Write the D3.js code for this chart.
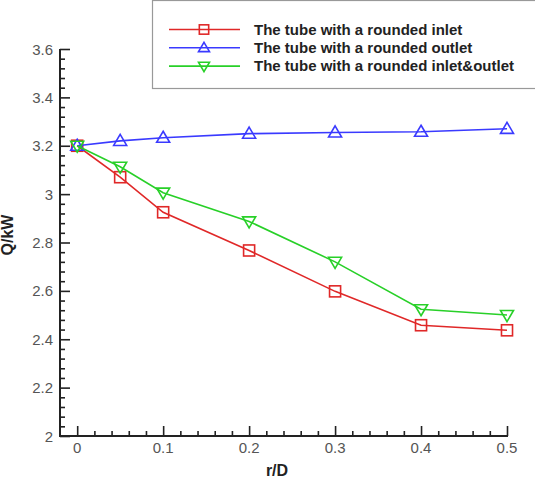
<!DOCTYPE html>
<html>
<head>
<script src="https://d3js.org/d3.v7.min.js"></script>
<style>
  body { margin: 0; background: #fff; }
  text { font-family: Arial, "Liberation Sans", sans-serif; }
</style>
</head>
<body>
<script>
// r/D values
const rD = [0, 0.05, 0.1, 0.2, 0.3, 0.4, 0.5];
// heat transfer Q (kW) for each tube
const inletQ = [3.20, 3.07, 2.925, 2.767, 2.598, 2.458, 2.437];
const outletQ = [3.20, 3.22, 3.233, 3.25, 3.255, 3.258, 3.27];
const bothQ = [3.20, 3.113, 3.006, 2.887, 2.72, 2.524, 2.50];
const seriesNames = ["The tube with a rounded inlet", "The tube with a rounded outlet", "The tube with a rounded inlet&outlet"];
const xTicks = [0, 0.1, 0.2, 0.3, 0.4, 0.5];
const yTicks = [2, 2.2, 2.4, 2.6, 2.8, 3, 3.2, 3.4, 3.6];

const WIDTH = 535, HEIGHT = 485;
const svg = d3.select("body").append("svg")
  .attr("width", WIDTH).attr("height", HEIGHT);

// plot region
const mLeft = 60, mRight = 507, mTop = 49, mBottom = 436;

const x = d3.scaleLinear().domain([-0.02, 0.5]).range([mLeft, mRight]);
const y = d3.scaleLinear().domain([2, 3.6]).range([mBottom, mTop]);

// minor ticks
const xMinor = d3.range(0, 0.5001, 0.02).filter(v => Math.abs(v * 10 - Math.round(v * 10)) > 1e-6);
const yMinor = d3.range(2, 3.6001, 0.04).filter(v => Math.abs(v * 5 - Math.round(v * 5)) > 1e-6);

const g = svg.append("g");

// x axis (ticks pointing inward)
g.append("g").attr("transform", `translate(0,${mBottom})`)
  .call(d3.axisTop(x).tickValues(xTicks).tickSize(10).tickFormat(""))
  .select(".domain").remove();
g.append("g").attr("transform", `translate(0,${mBottom})`)
  .call(d3.axisTop(x).tickValues(xMinor).tickSize(5).tickFormat(""))
  .select(".domain").remove();

// y axis
g.append("g").attr("transform", `translate(${mLeft},0)`)
  .call(d3.axisRight(y).tickValues(yTicks).tickSize(10).tickFormat(""))
  .select(".domain").remove();
g.append("g").attr("transform", `translate(${mLeft},0)`)
  .call(d3.axisRight(y).tickValues(yMinor).tickSize(5).tickFormat(""))
  .select(".domain").remove();

g.selectAll(".tick line").attr("stroke", "#222").attr("stroke-width", 1.6);

// axis lines
g.append("line").attr("x1", mLeft - 1).attr("x2", mRight + 1).attr("y1", mBottom).attr("y2", mBottom)
  .attr("stroke", "#222").attr("stroke-width", 2);
g.append("line").attr("x1", mLeft).attr("x2", mLeft).attr("y1", mTop).attr("y2", mBottom + 1)
  .attr("stroke", "#222").attr("stroke-width", 2);

// tick labels
g.selectAll(".xlab").data(xTicks).enter().append("text")
  .attr("x", d => x(d)).attr("y", mBottom + 17)
  .attr("text-anchor", "middle").attr("font-size", 15).attr("fill", "#555")
  .text(d => String(d));
g.selectAll(".ylab").data(yTicks).enter().append("text")
  .attr("x", mLeft - 7).attr("y", d => y(d) + 5.5)
  .attr("text-anchor", "end").attr("font-size", 15).attr("fill", "#555")
  .text(d => String(d));

// axis titles
svg.append("text").attr("x", 277).attr("y", 476).attr("text-anchor", "middle")
  .attr("font-size", 16).attr("font-weight", "bold").attr("fill", "#222").text("r/D");
svg.append("text").attr("transform", "translate(13,235) rotate(-90)").attr("text-anchor", "middle")
  .attr("font-size", 16).attr("font-weight", "bold").attr("fill", "#222").text("Q/kW");

// series
const colors = ["#e02828", "#3a3aff", "#28d028"];
const shapes = ["square", "up", "down"];
const allSeries = [inletQ, outletQ, bothQ];

function marker(sel, shape, color, s) {
  if (shape === "square") {
    sel.append("rect").attr("x", -s * 0.85).attr("y", -s * 0.85).attr("width", s * 1.7).attr("height", s * 1.7)
      .attr("fill", "none").attr("stroke", color).attr("stroke-width", 1.6);
  } else if (shape === "up") {
    sel.append("path").attr("d", `M0,${-s} L${s},${s * 0.7} L${-s},${s * 0.7} Z`)
      .attr("fill", "none").attr("stroke", color).attr("stroke-width", 1.6);
  } else {
    sel.append("path").attr("d", `M0,${s} L${s},${-s * 0.7} L${-s},${-s * 0.7} Z`)
      .attr("fill", "none").attr("stroke", color).attr("stroke-width", 1.6);
  }
}

const line = d3.line().x((d, i) => x(rD[i])).y(d => y(d));
allSeries.forEach((vals, k) => {
  const sg = svg.append("g");
  sg.append("path").datum(vals).attr("d", line)
    .attr("fill", "none").attr("stroke", colors[k]).attr("stroke-width", 1.6);
  vals.forEach((v, i) => {
    const m = sg.append("g").attr("transform", `translate(${x(rD[i])},${y(v)})`);
    marker(m, shapes[k], colors[k], 6.5);
  });
});

// legend
const lg = svg.append("g");
lg.append("rect").attr("x", 152.5).attr("y", 0.5).attr("width", 400).attr("height", 88)
  .attr("fill", "#fff").attr("stroke", "#999").attr("stroke-width", 1.2);
seriesNames.forEach((name, k) => {
  const ly = 29.5 + k * 18.3;
  lg.append("line").attr("x1", 169).attr("x2", 240).attr("y1", ly).attr("y2", ly)
    .attr("stroke", colors[k]).attr("stroke-width", 1.6);
  marker(lg.append("g").attr("transform", `translate(204,${ly})`), shapes[k], colors[k], 5.5);
  lg.append("text").attr("x", 254).attr("y", ly + 5)
    .attr("font-size", 15).attr("font-weight", "bold").attr("fill", "#222").text(name);
});
</script>
</body>
</html>
